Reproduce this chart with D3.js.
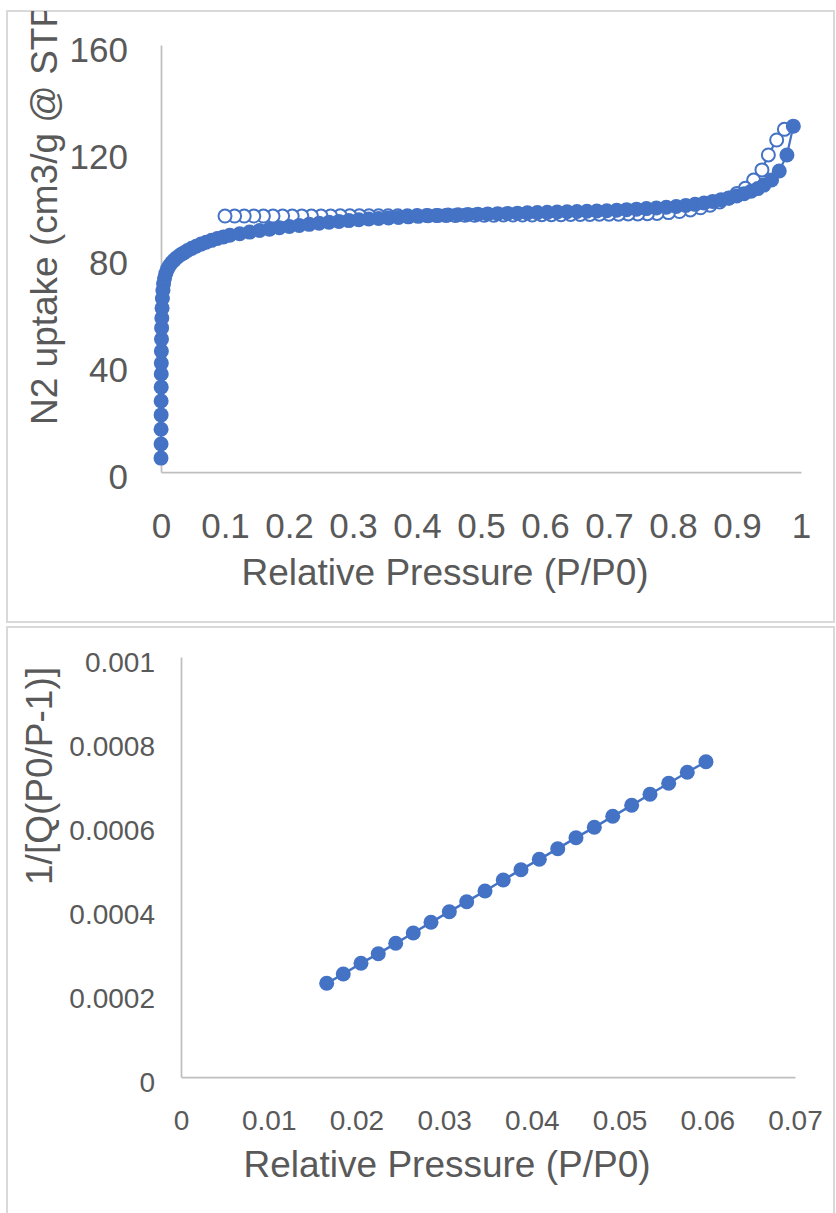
<!DOCTYPE html>
<html>
<head>
<meta charset="utf-8">
<script src="https://cdn.jsdelivr.net/npm/d3@7"></script>
<style>
  body { margin: 0; background: #fff; }
  svg { display: block; }
</style>
</head>
<body>
<svg id="chart" width="836" height="1213"></svg>
<script>
// isotherm (top chart)
var adsX = [0.0000, 0.0001, 0.0001, 0.0002, 0.0002, 0.0003, 0.0004, 0.0005, 0.0006, 0.0008,
  0.0010, 0.0013, 0.0017, 0.0022, 0.0030, 0.0040, 0.0055, 0.0075, 0.0100, 0.0130,
  0.0165, 0.0205, 0.0250, 0.0300, 0.0355, 0.0415, 0.0480, 0.0550, 0.0625, 0.0705,
  0.0790, 0.0880, 0.0975, 0.1075, 0.1230, 0.1385, 0.1540, 0.1695, 0.1850, 0.2005,
  0.2160, 0.2315, 0.2470, 0.2625, 0.2780, 0.2935, 0.3090, 0.3245, 0.3400, 0.3555,
  0.3710, 0.3865, 0.4020, 0.4175, 0.4330, 0.4485, 0.4640, 0.4795, 0.4950, 0.5105,
  0.5260, 0.5415, 0.5570, 0.5725, 0.5880, 0.6035, 0.6190, 0.6345, 0.6500, 0.6655,
  0.6810, 0.6965, 0.7120, 0.7275, 0.7430, 0.7585, 0.7740, 0.7895, 0.8050, 0.8200,
  0.8345, 0.8485, 0.8620, 0.8750, 0.8875, 0.8995, 0.9110, 0.9220, 0.9325, 0.9420,
  0.9540, 0.9660, 0.9780, 0.9880];
var adsY = [5.2, 10.5, 16.0, 21.4, 26.6, 31.8, 36.7, 40.8, 45.3, 49.8,
  54.0, 57.7, 61.4, 65.0, 68.0, 70.5, 72.6, 74.4, 76.0, 77.3,
  78.4, 79.4, 80.4, 81.3, 82.1, 83.0, 83.8, 84.6, 85.4, 86.1,
  86.8, 87.5, 88.1, 88.7, 89.3, 89.9, 90.5, 91.0, 91.5, 92.0,
  92.4, 92.8, 93.2, 93.6, 93.9, 94.2, 94.5, 94.8, 95.0, 95.2,
  95.4, 95.6, 95.8, 96.0, 96.1, 96.3, 96.4, 96.5, 96.6, 96.7,
  96.8, 96.9, 97.0, 97.1, 97.2, 97.3, 97.4, 97.5, 97.6, 97.7,
  97.8, 97.9, 98.1, 98.3, 98.5, 98.7, 98.9, 99.2, 99.5, 99.9,
  100.3, 100.8, 101.4, 102.0, 102.7, 103.4, 104.3, 105.2, 106.2, 107.5,
  109.4, 112.8, 118.8, 129.6];

var desX = [0.974, 0.962, 0.949, 0.939, 0.926, 0.913, 0.900, 0.887, 0.873, 0.858,
  0.843, 0.827, 0.810, 0.793, 0.775, 0.760, 0.745, 0.730, 0.715, 0.700,
  0.685, 0.670, 0.655, 0.640, 0.625, 0.610, 0.595, 0.580, 0.565, 0.550,
  0.535, 0.520, 0.505, 0.490, 0.475, 0.460, 0.445, 0.430, 0.415, 0.400,
  0.385, 0.370, 0.355, 0.340, 0.325, 0.310, 0.295, 0.280, 0.265, 0.250,
  0.235, 0.220, 0.205, 0.190, 0.175, 0.160, 0.145, 0.130, 0.115, 0.100];
var desY = [128.4, 124.4, 118.8, 113.2, 109.4, 106.3, 104.4, 102.6, 101.2, 100.0,
  99.0, 98.2, 97.6, 97.2, 96.9, 96.8, 96.7, 96.7, 96.6, 96.6,
  96.6, 96.5, 96.5, 96.5, 96.4, 96.4, 96.4, 96.3, 96.3, 96.3,
  96.3, 96.2, 96.2, 96.2, 96.2, 96.1, 96.1, 96.1, 96.1, 96.1,
  96.0, 96.0, 96.0, 96.0, 96.0, 96.0, 96.0, 96.0, 95.9, 95.9,
  95.9, 95.9, 95.9, 95.9, 95.9, 95.9, 95.9, 95.9, 95.9, 95.9];

var topXTicks = [0, 0.1, 0.2, 0.3, 0.4, 0.5, 0.6, 0.7, 0.8, 0.9, 1];
var topXLabels = ["0", "0.1", "0.2", "0.3", "0.4", "0.5", "0.6", "0.7", "0.8", "0.9", "1"];
var topYTicks = [0, 40, 80, 120, 160];
var topYLabels = ["0", "40", "80", "120", "160"];

// BET plot (bottom chart)
var betX = [0.01661, 0.01850, 0.02052, 0.02249, 0.02448, 0.02648, 0.02850, 0.03059,
  0.03257, 0.03466, 0.03674, 0.03876, 0.04085, 0.04295, 0.04503, 0.04712,
  0.04922, 0.05138, 0.05347, 0.05560, 0.05772, 0.05985];
var betY = [0.0002231, 0.0002452, 0.0002707, 0.0002936, 0.0003183, 0.0003429, 0.0003683, 0.0003936,
  0.0004174, 0.0004429, 0.0004690, 0.0004936, 0.0005183, 0.0005436, 0.0005698, 0.0005945,
  0.0006207, 0.0006469, 0.0006731, 0.0006993, 0.0007255, 0.0007507];

var botXTicks = [0, 0.01, 0.02, 0.03, 0.04, 0.05, 0.06, 0.07];
var botXLabels = ["0", "0.01", "0.02", "0.03", "0.04", "0.05", "0.06", "0.07"];
var botYTicks = [0, 0.0002, 0.0004, 0.0006, 0.0008, 0.001];
var botYLabels = ["0", "0.0002", "0.0004", "0.0006", "0.0008", "0.001"];

var blue = "#4472C4",
    textCol = "#595959",
    axisCol = "#bfbfbf",
    font = "'Liberation Sans', Arial, sans-serif";

var svg = d3.select("#chart");

svg.append("defs").append("clipPath")
    .attr("id", "topclip")
  .append("rect")
    .attr("x", 7).attr("y", 11).attr("width", 827).attr("height", 611);

// panel frames
svg.append("rect")
    .attr("x", 7).attr("y", 11).attr("width", 827).attr("height", 611)
    .attr("fill", "#fff").attr("stroke", "#d9d9d9").attr("stroke-width", 2);
svg.append("rect")
    .attr("x", 7).attr("y", 627).attr("width", 827).attr("height", 620)
    .attr("fill", "#fff").attr("stroke", "#d9d9d9").attr("stroke-width", 2);

function styleAxis(g, size, dy) {
  g.attr("font-family", font).attr("font-size", size);
  g.select(".domain").attr("stroke", axisCol).attr("stroke-width", 1.75);
  g.selectAll("text").attr("fill", textCol);
  if (dy != null) g.selectAll("text").attr("dy", dy);
}

// ---------- top chart ----------
var x1 = d3.scaleLinear().domain([0, 1]).range([161, 801]);
var y1 = d3.scaleLinear().domain([0, 160]).range([472, 45]);

svg.append("g")
    .attr("transform", "translate(0,472)")
    .call(d3.axisBottom(x1).tickValues(topXTicks)
      .tickFormat(function(d, i) { return topXLabels[i]; })
      .tickSize(0).tickSizeOuter(0).tickPadding(41))
    .call(styleAxis, 35);

svg.append("g")
    .attr("transform", "translate(161,0)")
    .call(d3.axisLeft(y1).tickValues(topYTicks)
      .tickFormat(function(d, i) { return topYLabels[i]; })
      .tickSize(0).tickSizeOuter(0).tickPadding(33))
    .call(styleAxis, 35, "0.47em");

svg.append("text")
    .attr("x", 445).attr("y", 585)
    .attr("text-anchor", "middle")
    .attr("font-family", font).attr("font-size", 37).attr("fill", textCol)
    .text("Relative Pressure (P/P0)");

// the original title runs past the top of its frame and is cut there
svg.append("g")
    .attr("clip-path", "url(#topclip)")
  .append("text")
    .attr("transform", "translate(57,425) rotate(-90)")
    .attr("text-anchor", "start")
    .attr("font-family", font).attr("font-size", 37).attr("fill", textCol)
    .text("N2 uptake (cm3/g @ STP)");

var line1 = d3.line()
    .x(function(d) { return x1(d[0]); })
    .y(function(d) { return y1(d[1]); });

var des = d3.zip(desX, desY),
    ads = d3.zip(adsX, adsY);

svg.append("path")
    .datum(des)
    .attr("d", line1)
    .attr("fill", "none").attr("stroke", blue).attr("stroke-width", 2.25);

svg.append("g").selectAll("circle")
    .data(des)
  .enter().append("circle")
    .attr("cx", function(d) { return x1(d[0]); })
    .attr("cy", function(d) { return y1(d[1]); })
    .attr("r", 6.5)
    .attr("fill", "#fff").attr("stroke", blue).attr("stroke-width", 2);

svg.append("path")
    .datum(ads)
    .attr("d", line1)
    .attr("fill", "none").attr("stroke", blue).attr("stroke-width", 2.25);

svg.append("g").selectAll("circle")
    .data(ads)
  .enter().append("circle")
    .attr("cx", function(d) { return x1(d[0]); })
    .attr("cy", function(d) { return y1(d[1]); })
    .attr("r", 7.5)
    .attr("fill", blue);

// ---------- bottom chart ----------
var x2 = d3.scaleLinear().domain([0, 0.07]).range([181, 795]);
var y2 = d3.scaleLinear().domain([0, 0.001]).range([1077, 657]);

svg.append("g")
    .attr("transform", "translate(0,1077)")
    .call(d3.axisBottom(x2).tickValues(botXTicks)
      .tickFormat(function(d, i) { return botXLabels[i]; })
      .tickSize(0).tickSizeOuter(0).tickPadding(33))
    .call(styleAxis, 28);

svg.append("g")
    .attr("transform", "translate(181,0)")
    .call(d3.axisLeft(y2).tickValues(botYTicks)
      .tickFormat(function(d, i) { return botYLabels[i]; })
      .tickSize(0).tickSizeOuter(0).tickPadding(26))
    .call(styleAxis, 28, "0.5em");

svg.append("text")
    .attr("x", 447).attr("y", 1177)
    .attr("text-anchor", "middle")
    .attr("font-family", font).attr("font-size", 37).attr("fill", textCol)
    .text("Relative Pressure (P/P0)");

svg.append("text")
    .attr("transform", "translate(52,776) rotate(-90)")
    .attr("text-anchor", "middle")
    .attr("font-family", font).attr("font-size", 37).attr("fill", textCol)
    .text("1/[Q(P0/P-1)]");

var bet = d3.zip(betX, betY);

svg.append("path")
    .datum(bet)
    .attr("d", d3.line()
      .x(function(d) { return x2(d[0]); })
      .y(function(d) { return y2(d[1]); }))
    .attr("fill", "none").attr("stroke", blue).attr("stroke-width", 2.5);

svg.append("g").selectAll("circle")
    .data(bet)
  .enter().append("circle")
    .attr("cx", function(d) { return x2(d[0]); })
    .attr("cy", function(d) { return y2(d[1]); })
    .attr("r", 7.5)
    .attr("fill", blue);
</script>
</body>
</html>
